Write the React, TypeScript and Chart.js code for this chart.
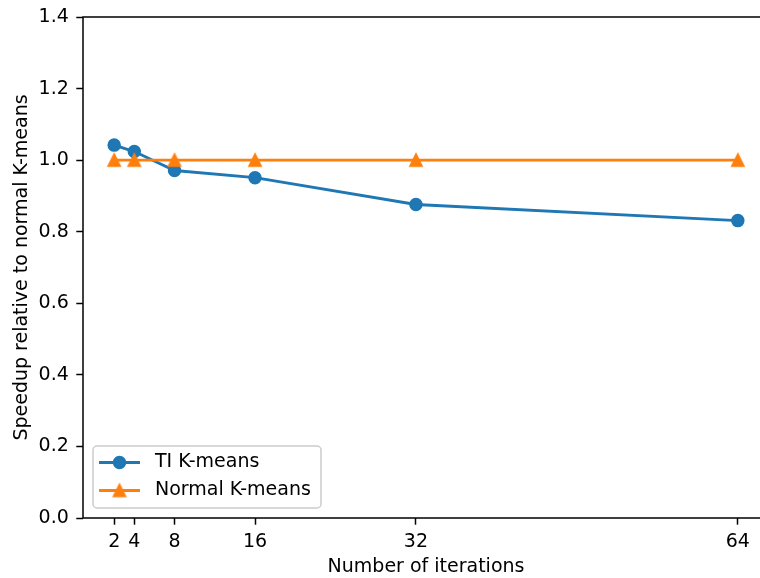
import { useEffect, useRef } from "react";
import { Chart, registerables } from "chart.js";
Chart.register(...registerables);

const iterations = [2, 4, 8, 16, 32, 64];
const tiKmeans = [1.042, 1.024, 0.971, 0.951, 0.876, 0.831];
const normalKmeans = [1.0, 1.0, 1.0, 1.0, 1.0, 1.0];
const yTicks = [0, 0.2, 0.4, 0.6, 0.8, 1.0, 1.2, 1.4];
const seriesLabels = ["TI K-means", "Normal K-means"];
const xTitle = "Number of iterations";
const yTitle = "Speedup relative to normal K-means";

const BLUE = "#1f77b4";
const ORANGE = "#ff7f0e";
const FONT = { family: "'DejaVu Sans', sans-serif", size: 19 };

function makeTriangle(): HTMLCanvasElement {
  const c = document.createElement("canvas");
  c.width = 18;
  c.height = 18;
  const g = c.getContext("2d")!;
  const h = 5.8;
  g.beginPath();
  g.moveTo(9, 9 - h);
  g.lineTo(9 - h, 9 + h);
  g.lineTo(9 + h, 9 + h);
  g.closePath();
  g.fillStyle = ORANGE;
  g.strokeStyle = ORANGE;
  g.lineWidth = 1.9;
  g.lineJoin = "miter";
  g.fill();
  g.stroke();
  return c;
}

export default function App() {
  const ref = useRef<HTMLCanvasElement>(null);
  useEffect(() => {
    const canvas = ref.current!;
    const tri = makeTriangle();
    const overlay = {
      id: "overlay",
      afterDatasetsDraw(chart: any) {
        const { ctx, chartArea: a } = chart;
        ctx.save();
        ctx.strokeStyle = "#000";
        ctx.lineWidth = 1.5;
        ctx.lineCap = "square";
        ctx.beginPath();
        ctx.moveTo(a.right + 5, a.top);
        ctx.lineTo(a.left, a.top);
        ctx.lineTo(a.left, a.bottom);
        ctx.lineTo(a.right + 5, a.bottom);
        ctx.stroke();

        // legend (inside axes, lower left)
        const bx = a.left + 10;
        const by = a.bottom - 10 - 62;
        const bw = 228;
        const bh = 62;
        const r = 4;
        ctx.beginPath();
        ctx.moveTo(bx + r, by);
        ctx.arcTo(bx + bw, by, bx + bw, by + bh, r);
        ctx.arcTo(bx + bw, by + bh, bx, by + bh, r);
        ctx.arcTo(bx, by + bh, bx, by, r);
        ctx.arcTo(bx, by, bx + bw, by, r);
        ctx.closePath();
        ctx.fillStyle = "rgba(255,255,255,0.8)";
        ctx.fill();
        ctx.strokeStyle = "#cccccc";
        ctx.lineWidth = 1.5;
        ctx.stroke();

        const rows = [by + 16.5, by + 44.5];
        const colors = [BLUE, ORANGE];
        rows.forEach((ry, i) => {
          ctx.strokeStyle = colors[i];
          ctx.lineWidth = 2.9;
          ctx.lineCap = "butt";
          ctx.beginPath();
          ctx.moveTo(bx + 6, ry);
          ctx.lineTo(bx + 47, ry);
          ctx.stroke();
          const mx = bx + 26.5;
          if (i === 0) {
            ctx.beginPath();
            ctx.arc(mx, ry, 5.8, 0, Math.PI * 2);
            ctx.fillStyle = BLUE;
            ctx.fill();
            ctx.lineWidth = 1.9;
            ctx.strokeStyle = BLUE;
            ctx.stroke();
          } else {
            ctx.drawImage(tri, mx - 9, ry - 9);
          }
          ctx.fillStyle = "#000";
          ctx.font = `${FONT.size}px ${FONT.family}`;
          ctx.textBaseline = "middle";
          ctx.textAlign = "left";
          ctx.fillText(seriesLabels[i], bx + 62, ry);
        });
        ctx.restore();
      },
    };

    const chart = new Chart(canvas, {
      type: "line",
      data: {
        datasets: [
          {
            label: seriesLabels[0],
            data: iterations.map((x, i) => ({ x, y: tiKmeans[i] })),
            borderColor: BLUE,
            backgroundColor: BLUE,
            borderWidth: 2.9,
            pointRadius: 5.8,
            pointBorderWidth: 1.9,
            pointBackgroundColor: BLUE,
            pointBorderColor: BLUE,
            order: 2,
            clip: false as any,
            tension: 0,
          },
          {
            label: seriesLabels[1],
            data: iterations.map((x, i) => ({ x, y: normalKmeans[i] })),
            borderColor: ORANGE,
            backgroundColor: ORANGE,
            borderWidth: 2.9,
            pointStyle: tri as any,
            pointRadius: 6,
            order: 1,
            clip: false as any,
            tension: 0,
          },
        ],
      },
      options: {
        responsive: false,
        animation: false,
        devicePixelRatio: 1,
        layout: { autoPadding: false, padding: { top: 17, right: 1, left: 0, bottom: 0 } },
        plugins: { legend: { display: false }, tooltip: { enabled: false } },
        scales: {
          x: {
            type: "linear",
            min: -1.1,
            max: 67.1,
            afterBuildTicks: (s: any) => {
              s.ticks = iterations.map((v) => ({ value: v }));
            },
            afterFit: (s: any) => {
              s.height = 60;
              s.paddingLeft = 0;
              s.paddingRight = 0;
            },
            ticks: { autoSkip: false, maxRotation: 0, padding: 6, color: "#000", font: FONT },
            grid: { drawOnChartArea: false, tickLength: 6.7, tickWidth: 1.5, tickColor: "#000" },
            border: { display: false },
            title: { display: true, text: xTitle, color: "#000", font: FONT, padding: { top: 0, bottom: 0 } },
          },
          y: {
            type: "linear",
            min: 0,
            max: 1.4,
            afterBuildTicks: (s: any) => {
              s.ticks = yTicks.map((v) => ({ value: v }));
            },
            afterFit: (s: any) => {
              s.width = 83;
              s.paddingTop = 0;
              s.paddingBottom = 0;
            },
            ticks: {
              padding: 7.5,
              color: "#000",
              font: FONT,
              callback: (v: any) => Number(v).toFixed(1),
            },
            grid: { drawOnChartArea: false, tickLength: 6.7, tickWidth: 1.5, tickColor: "#000" },
            border: { display: false },
            title: { display: true, text: yTitle, color: "#000", font: FONT, padding: { top: 11, bottom: 0 } },
          },
        },
      },
      plugins: [overlay],
    });
    return () => chart.destroy();
  }, []);

  return (
    <div
      style={{
        position: "fixed",
        left: 0,
        top: 0,
        width: 760,
        height: 578,
        overflow: "hidden",
        background: "#fff",
      }}
    >
      <canvas ref={ref} width={770} height={578} style={{ display: "block" }} />
    </div>
  );
}
